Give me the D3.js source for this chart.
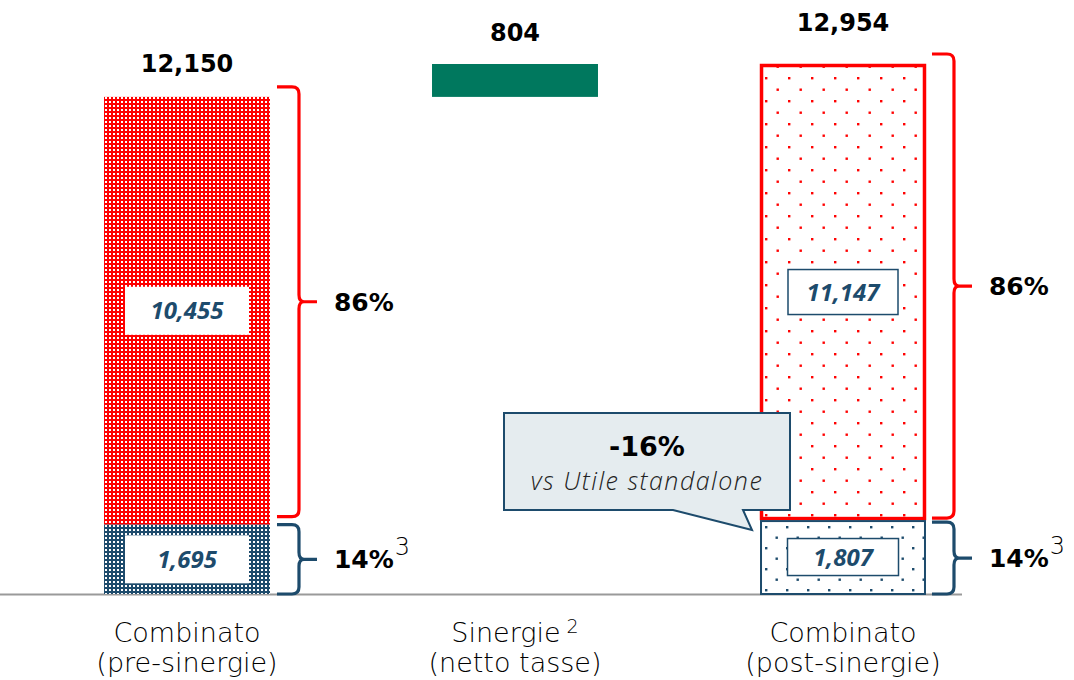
<!DOCTYPE html>
<html>
<head>
<meta charset="utf-8">
<script src="https://cdn.jsdelivr.net/npm/d3@7"></script>
<style>
  body { margin: 0; background: #fff; }
  svg { display: block; }
</style>
</head>
<body>
<svg id="chart" width="1074" height="680"></svg>
<script>
// data
var categories = ["pre", "syn", "post"]
var catLine1 = ["Combinato", "Sinergie", "Combinato"]
var catLine2 = ["(pre-sinergie)", "(netto tasse)", "(post-sinergie)"]
var catSup = ["", "2", ""]
var redValues = [10455, null, 11147]
var blueValues = [1695, null, 1807]
var synergy = 804
var totals = [12150, 804, 12954]
var shareRed = ["86%", null, "86%"]
var shareBlue = ["14%", null, "14%"]
var calloutTitle = "-16%"
var calloutText = "vs Utile standalone"

var RED = "#ff0000", NAVY = "#1d4b6c", GREEN = "#00785e"

var svg = d3.select("#chart")
var baseY = 594

var x = d3.scaleBand().domain(categories).range([23, 1007])
  .paddingInner(0.494).paddingOuter(0.247)
var y = d3.scaleLinear().domain([0, totals[2]]).range([baseY, 64])

var fmt = d3.format(",")

// patterns
var defs = svg.append("defs")
function densePattern(id, color){
  var p = defs.append("pattern").attr("id", id).attr("patternUnits", "userSpaceOnUse")
    .attr("width", 4).attr("height", 4)
  p.append("rect").attr("width", 4).attr("height", 4).attr("fill", color)
  p.append("rect").attr("x", 1).attr("y", 1).attr("width", 2).attr("height", 2).attr("fill", "#fff")
    .attr("shape-rendering", "crispEdges")
}
function dotPattern(id, color, step, ox, oy){
  var p = defs.append("pattern").attr("id", id).attr("patternUnits", "userSpaceOnUse")
    .attr("width", step).attr("height", step).attr("x", ox).attr("y", oy)
  p.append("rect").attr("width", step).attr("height", step).attr("fill", "#fff")
  p.append("rect").attr("x", 0).attr("y", 0).attr("width", 2.4).attr("height", 2.4).attr("fill", color)
  p.append("rect").attr("x", step/2).attr("y", step/2).attr("width", 2.4).attr("height", 2.4).attr("fill", color)
}
densePattern("denseRed", RED)
densePattern("denseNavy", NAVY)
dotPattern("dotRed", RED, 23, x("post") + 5, 77)
dotPattern("dotNavy", NAVY, 21, x("post") + 5, 526)

// baseline
svg.append("line").attr("x1", 0).attr("x2", 962).attr("y1", baseY + 0.5).attr("y2", baseY + 0.5)
  .attr("stroke", "#9a9a9a").attr("stroke-width", 2)

var bw = x.bandwidth()

// pre-synergy stacked bar
var pre = svg.append("g")
pre.append("rect").attr("x", x("pre")).attr("width", bw)
  .attr("y", y(totals[0])).attr("height", y(blueValues[0]) - y(totals[0]))
  .attr("fill", "url(#denseRed)")
pre.append("rect").attr("x", x("pre")).attr("width", bw)
  .attr("y", y(blueValues[0])).attr("height", baseY - y(blueValues[0]))
  .attr("fill", "url(#denseNavy)")

// synergy floating bar
svg.append("rect").attr("x", x("syn")).attr("width", bw)
  .attr("y", y(totals[0] + synergy)).attr("height", y(totals[0]) - y(totals[0] + synergy))
  .attr("fill", GREEN)

// post-synergy stacked bar
var post = svg.append("g")
post.append("rect").attr("x", x("post") + 1.5).attr("width", bw - 3)
  .attr("y", y(totals[2]) + 1.5).attr("height", y(blueValues[2]) - y(totals[2]) - 3)
  .attr("fill", "url(#dotRed)").attr("stroke", RED).attr("stroke-width", 3.5)
post.append("rect").attr("x", x("post") + 1).attr("width", bw - 2)
  .attr("y", y(blueValues[2]) + 1).attr("height", baseY - y(blueValues[2]) - 1)
  .attr("fill", "url(#dotNavy)").attr("stroke", NAVY).attr("stroke-width", 2)

// inner value boxes
function valueBox(cat, v0, v1, val, w, h, bordered){
  var cx = x(cat) + bw / 2, cy = (y(v0) + y(v1)) / 2
  svg.append("rect").attr("x", cx - w / 2).attr("y", cy - h / 2).attr("width", w).attr("height", h)
    .attr("fill", "#fff").attr("stroke", bordered ? NAVY : "none").attr("stroke-width", 1.5)
  svg.append("text").attr("x", cx).attr("y", cy).attr("dy", "0.36em")
    .attr("text-anchor", "middle").attr("fill", NAVY)
    .style("font", "italic bold 24px 'Open Sans', sans-serif")
    .text(fmt(val))
}
valueBox("pre", blueValues[0], totals[0], redValues[0], 124, 48, false)
valueBox("pre", 0, blueValues[0], blueValues[0], 124, 48, false)
valueBox("post", blueValues[2], totals[2], redValues[2], 110, 45, true)
valueBox("post", 0, blueValues[2], blueValues[2], 111, 37, true)

// totals above bars
var topOff = [25, 23, 33]
svg.selectAll(".total").data(categories).enter().append("text")
  .attr("class", "total")
  .attr("x", d => x(d) + bw / 2)
  .attr("y", (d, i) => y(i == 1 ? totals[0] + synergy : totals[i]) - topOff[i])
  .attr("text-anchor", "middle")
  .style("font", "bold 24px 'DejaVu Sans', sans-serif")
  .text((d, i) => fmt(totals[i]))

// braces
function brace(x0, y0, y1, color, label, sup){
  var w = 22, r = 7, tip = 18, ym = (y0 + y1) / 2
  var xv = x0 + w
  var p = "M" + x0 + "," + y0 + " H" + (xv - r) + " Q" + xv + "," + y0 + " " + xv + "," + (y0 + r) +
    " V" + (ym - r) + " Q" + xv + "," + ym + " " + (xv + 5) + "," + ym + " H" + (xv + tip) +
    " M" + (xv + 5) + "," + ym + " Q" + xv + "," + ym + " " + xv + "," + (ym + r) +
    " V" + (y1 - r) + " Q" + xv + "," + y1 + " " + (xv - r) + "," + y1 + " H" + x0
  svg.append("path").attr("d", p).attr("fill", "none").attr("stroke", color)
    .attr("stroke-width", 3.2).attr("stroke-linejoin", "round")
  var t = svg.append("text").attr("x", xv + tip + 17).attr("y", ym).attr("dy", "0.36em")
    .style("font", "bold 25px 'DejaVu Sans', sans-serif").attr("fill", "#000")
  t.append("tspan").text(label)
  if (sup) t.append("tspan").attr("dy", "-0.55em").attr("dx", 1)
    .style("font", "200 24px 'DejaVu Sans', sans-serif").text(sup)
}
brace(x("pre") + bw + 7, y(totals[0]) - 10, y(blueValues[0]) - 8, RED, shareRed[0])
brace(x("pre") + bw + 7, y(blueValues[0]), baseY, NAVY, shareBlue[0], "3")
brace(x("post") + bw + 6, y(totals[2]) - 10, y(blueValues[2]) - 2, RED, shareRed[2])
brace(x("post") + bw + 6, y(blueValues[2]) + 2, baseY, NAVY, shareBlue[2], "3")

// callout
var cb = {x0: 504, x1: 790, y0: 413, y1: 510}
var tipX = x("post") - 8, tipY = y(blueValues[2]) + 10
svg.append("path")
  .attr("d", "M" + cb.x0 + "," + cb.y0 + " H" + cb.x1 + " V" + cb.y1 + " H" + 743 +
    " L" + tipX + "," + tipY + " L" + 673 + "," + cb.y1 + " H" + cb.x0 + " Z")
  .attr("fill", "#e5ecef").attr("stroke", NAVY).attr("stroke-width", 2)
svg.append("text").attr("x", (cb.x0 + cb.x1) / 2).attr("y", 456)
  .attr("text-anchor", "middle").style("font", "bold 27px 'DejaVu Sans', sans-serif")
  .text(calloutTitle)
svg.append("text").attr("x", (cb.x0 + cb.x1) / 2).attr("y", 490)
  .attr("text-anchor", "middle").attr("fill", "#222")
  .style("font", "italic 300 25px 'Open Sans', sans-serif")
  .style("letter-spacing", "1.5px")
  .text(calloutText)

// category labels
var catFont = "200 27px 'DejaVu Sans', sans-serif"
var cat = svg.selectAll(".cat").data(categories).enter().append("g").attr("class", "cat")
var l1 = cat.append("text").attr("x", d => x(d) + bw / 2).attr("y", 642)
  .attr("text-anchor", "middle").style("font", catFont)
l1.append("tspan").text((d, i) => catLine1[i])
l1.filter(d => catSup[categories.indexOf(d)]).append("tspan").attr("dy", "-0.5em").attr("dx", 6)
  .style("font-size", "19px").text(d => catSup[categories.indexOf(d)])
cat.append("text").attr("x", d => x(d) + bw / 2).attr("y", 672)
  .attr("text-anchor", "middle").style("font", catFont)
  .text((d, i) => catLine2[i])
</script>
</body>
</html>
